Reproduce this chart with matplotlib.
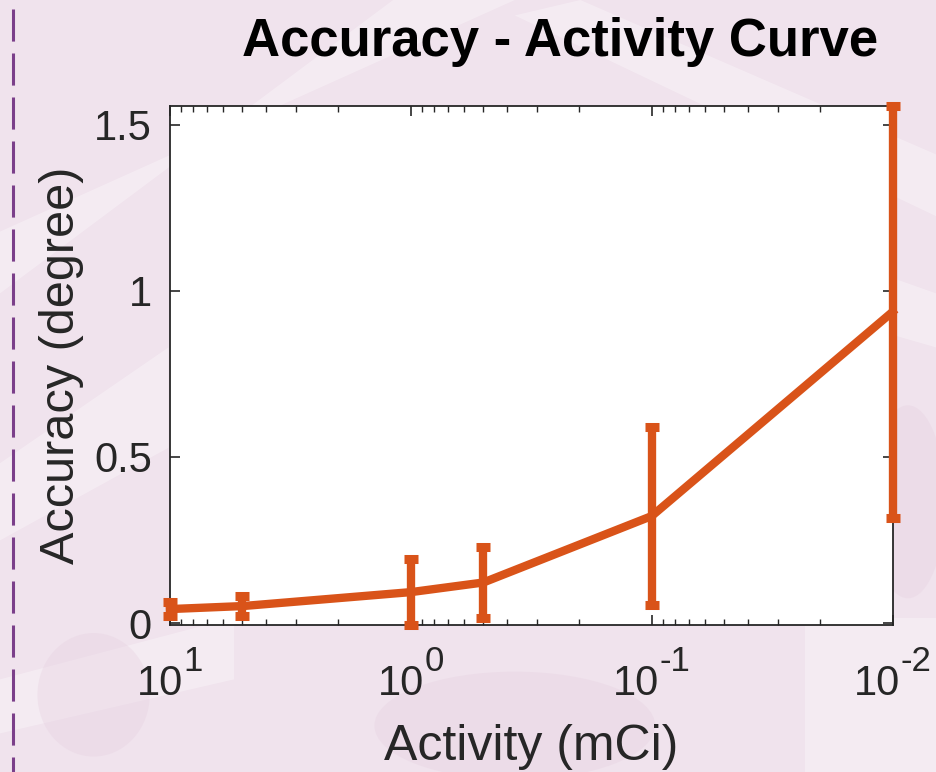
import matplotlib
matplotlib.use("Agg")
import matplotlib.pyplot as plt
from matplotlib.patches import Polygon, Ellipse
from matplotlib.lines import Line2D
from matplotlib.transforms import blended_transform_factory, offset_copy
from matplotlib.ticker import LogLocator, FixedLocator, FixedFormatter, NullFormatter
import numpy as np

# Source activity (mCi) and measured angular accuracy (degree)
activity = [10, 5, 1, 0.5, 0.1, 0.01]
accuracy = [0.042, 0.051, 0.093, 0.122, 0.322, 0.937]
accuracy_err = [0.021, 0.030, 0.099, 0.107, 0.268, 0.620]

x_ticks = [10, 1, 0.1, 0.01]
x_tick_base = ["10", "10", "10", "10"]
x_tick_exp = ["1", "0", "-1", "-2"]
y_ticks = [0, 0.5, 1, 1.5]
y_tick_labels = ["0", "0.5", "1", "1.5"]

plt.rcParams["font.family"] = ["Liberation Sans", "DejaVu Sans"]

BG = "#f0e3ed"
LINE = "#d95319"
INK = "#262626"

fig = plt.figure(figsize=(9.36, 7.72), dpi=100, facecolor=BG)

# Soft slide backdrop: pale diagonal streaks and faint darker blotches
bg = fig.add_axes([0, 0, 1, 1], zorder=-10)
bg.set_xlim(0, 1)
bg.set_ylim(0, 1)
bg.axis("off")
streaks = [
    [(0.0, 0.62), (0.0, 0.70), (0.55, 1.0), (0.42, 1.0)],
    [(0.55, 0.98), (0.62, 1.0), (1.0, 0.80), (1.0, 0.72)],
    [(0.80, 0.62), (1.0, 0.55), (1.0, 0.62), (0.86, 0.68)],
    [(0.0, 0.30), (0.0, 0.40), (0.18, 0.55), (0.18, 0.42)],
    [(0.86, 0.0), (1.0, 0.0), (1.0, 0.20), (0.86, 0.20)],
    [(0.0, 0.05), (0.0, 0.12), (0.25, 0.20), (0.25, 0.12)],
]
for pts in streaks:
    bg.add_patch(Polygon(pts, closed=True, facecolor="white", alpha=0.3,
                         edgecolor="none"))
blotches = [((0.10, 0.10), 0.12, 0.16), ((0.55, 0.06), 0.30, 0.14),
            ((0.97, 0.35), 0.08, 0.25)]
for (cx, cy), w, h in blotches:
    bg.add_patch(Ellipse((cx, cy), w, h, facecolor="#e6d0e0", alpha=0.35,
                         edgecolor="none"))
# Accent dashed rule along the left edge
bg.add_line(Line2D([13 / 936, 13 / 936], [1 - 9 / 772, 0.0], color="#7b3f8a",
                   linewidth=2.2, dashes=(10.5, 3.9)))

ax = fig.add_axes([170 / 936, 1 - 625 / 772, (892.5 - 170) / 936, (625 - 106) / 772])
ax.set_facecolor("white")

ax.errorbar(activity, accuracy, yerr=accuracy_err, color=LINE, linewidth=6,
            elinewidth=6, capsize=5, capthick=6.5, clip_on=False, zorder=3)

ax.set_xscale("log")
ax.set_xlim(max(activity), min(activity))
lo = np.array(accuracy) - np.array(accuracy_err)
hi = np.array(accuracy) + np.array(accuracy_err)
ax.set_ylim(lo.min(), hi.max())

ax.xaxis.set_major_locator(FixedLocator(x_ticks))
ax.xaxis.set_major_formatter(NullFormatter())
ax.xaxis.set_minor_locator(LogLocator(base=10, subs=np.arange(2, 10)))
ax.xaxis.set_minor_formatter(NullFormatter())
ax.yaxis.set_major_locator(FixedLocator(y_ticks))
ax.yaxis.set_major_formatter(FixedFormatter(y_tick_labels))

ax.tick_params(which="both", direction="in", top=True, right=True, color=INK,
               labelcolor=INK)
ax.tick_params(which="major", length=7, width=1.2, labelsize=30)
ax.tick_params(which="minor", length=4, width=1.0)
ax.tick_params(axis="y", which="major", pad=13)
for s in ax.spines.values():
    s.set_color(INK)
    s.set_linewidth(1.3)

# Power-of-ten labels on the log axis: base with a raised exponent,
# the pair centred as a whole under its tick
trans = blended_transform_factory(ax.transData, ax.transAxes)
fig.canvas.draw()
renderer = fig.canvas.get_renderer()
for xv, base, ex in zip(x_ticks, x_tick_base, x_tick_exp):
    tb = ax.text(xv, 0, base, fontsize=30, color=INK, ha="left", va="baseline",
                 transform=trans)
    te = ax.text(xv, 0, ex, fontsize=25, color=INK, ha="left", va="baseline",
                 transform=trans)
    wb = tb.get_window_extent(renderer).width
    we = te.get_window_extent(renderer).width
    start = -(wb + we) / 2.0
    tb.set_transform(offset_copy(trans, fig=fig, x=start, y=-70, units="dots"))
    te.set_transform(offset_copy(trans, fig=fig, x=start + wb, y=-46, units="dots"))

ax.set_xlabel("Activity (mCi)", fontsize=36, color=INK, labelpad=68)
ax.set_ylabel("Accuracy (degree)", fontsize=35, color=INK, labelpad=7)
fig.text(560 / 936, 1 - 56 / 772, "Accuracy - Activity Curve", fontsize=38,
         fontweight="bold", color="black", ha="center", va="baseline")

fig.savefig("out.png", dpi=100, facecolor=BG)
